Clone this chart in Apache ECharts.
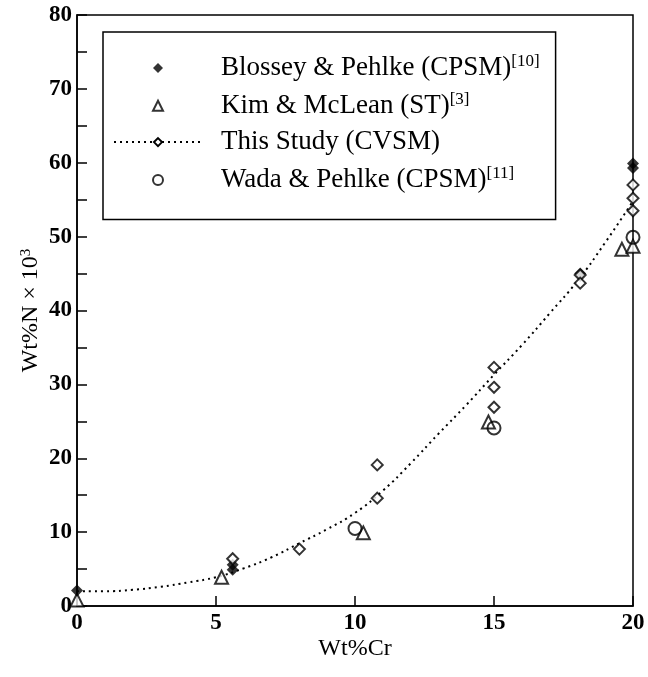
<!DOCTYPE html>
<html>
<head>
<meta charset="utf-8">
<script src="https://cdn.jsdelivr.net/npm/echarts@6/dist/echarts.min.js"></script>
<style>
  html, body { margin: 0; padding: 0; background: #fff; }
  #chart { width: 648px; height: 677px; }
</style>
</head>
<body>
<div id="chart"></div>
<script>
// Nitrogen solubility vs. chromium content
const blosseyX = [0, 5.6, 5.6, 18.1, 20, 20];
const blosseyY = [2.1, 5.6, 4.9, 45.0, 59.9, 59.3];

const kimX = [0, 5.2, 10.3, 14.8, 19.6, 20];
const kimY = [0.8, 3.9, 9.9, 24.9, 48.3, 48.7];

const studyX = [5.6, 8.0, 10.8, 10.8, 15, 15, 15, 18.1, 18.1, 20, 20, 20];
const studyY = [6.4, 7.7, 19.1, 14.6, 32.3, 29.6, 26.9, 44.8, 43.7, 57.0, 55.2, 53.5];

const wadaX = [10.0, 15.0, 20];
const wadaY = [10.5, 24.1, 49.9];

// dotted fitted curve for this study
const fitX = [0, 1, 2, 3, 4, 5, 6, 7, 8, 9, 10, 11, 12, 13, 14, 15, 16, 17, 18, 19, 20];
const fitY = [2.0, 2.0, 2.2, 2.6, 3.2, 3.9, 5.1, 6.6, 8.5, 10.4, 12.6, 15.6, 19.3, 23.3, 27.2, 31.3, 35.3, 39.6, 44.0, 49.2, 54.8];

const xTicks = [0, 5, 10, 15, 20];
const yTicks = [0, 10, 20, 30, 40, 50, 60, 70, 80];

const names = {
  blossey: 'Blossey & Pehlke (CPSM)',
  kim: 'Kim & McLean (ST)',
  study: 'This Study (CVSM)',
  wada: 'Wada & Pehlke (CPSM)'
};
const refs = {
  'Blossey & Pehlke (CPSM)': '[10]',
  'Kim & McLean (ST)': '[3]',
  'Wada & Pehlke (CPSM)': '[11]'
};

// legend glyphs as paths so they keep their proportions inside the wide icon box
const ICON_DIAMOND = 'path://M0,-1L1,0L0,1L-1,0Z';
const ICON_TRIANGLE = 'path://M0,-1L1,1L-1,1Z';
const ICON_CIRCLE = 'path://M0,-1A1,1,0,1,1,0,1A1,1,0,1,1,0,-1Z';

const FONT = '"Liberation Serif", "DejaVu Serif", serif';
const pair = (xs, ys) => xs.map((x, i) => [x, ys[i]]);

const chart = echarts.init(document.getElementById('chart'), null, { renderer: 'canvas' });

chart.setOption({
  animation: false,
  backgroundColor: '#fff',
  grid: {
    left: 77, right: 15, top: 15, bottom: 71,
    show: true, borderColor: '#000', borderWidth: 1.5
  },
  legend: {
    orient: 'vertical',
    left: 103, top: 32,
    padding: [21, 16, 26, 10],
    itemGap: 9.3,
    itemWidth: 88,
    itemHeight: 10,
    symbolKeepAspect: true,
    borderColor: '#000',
    borderWidth: 1.5,
    data: [
      { name: names.blossey, icon: ICON_DIAMOND },
      { name: names.kim, icon: ICON_TRIANGLE },
      { name: names.study },
      { name: names.wada, icon: ICON_CIRCLE }
    ],
    formatter: function (n) {
      return refs[n] ? '{t|' + n + '}{s|' + refs[n] + '}' : '{t|' + n + '}';
    },
    textStyle: {
      color: '#000',
      fontFamily: FONT,
      fontSize: 27,
      padding: [0, 0, 0, 14],
      rich: {
        t: { fontFamily: FONT, fontSize: 27, color: '#000', lineHeight: 30 },
        s: { fontFamily: FONT, fontSize: 17, color: '#000', lineHeight: 16, verticalAlign: 'top' }
      }
    }
  },
  xAxis: {
    type: 'value',
    min: xTicks[0], max: xTicks[xTicks.length - 1], interval: 5,
    name: 'Wt%Cr',
    nameLocation: 'middle',
    nameGap: 31,
    nameMoveOverlap: false,
    nameTextStyle: { color: '#000', fontFamily: FONT, fontSize: 24, verticalAlign: 'top' },
    axisLine: { lineStyle: { color: '#000', width: 1.5 } },
    axisTick: { inside: true, length: 10, lineStyle: { color: '#000', width: 1.5 } },
    axisLabel: { color: '#000', fontFamily: FONT, fontSize: 23, fontWeight: 'bold', margin: 6 },
    splitLine: { show: false }
  },
  yAxis: {
    type: 'value',
    min: yTicks[0], max: yTicks[yTicks.length - 1], interval: 10,
    name: 'Wt%N × 10{sup|3}',
    nameLocation: 'middle',
    nameGap: 34,
    nameMoveOverlap: false,
    nameRotate: 90,
    nameTextStyle: {
      color: '#000', fontFamily: FONT, fontSize: 24,
      rich: {
        sup: { fontFamily: FONT, fontSize: 15, color: '#000', verticalAlign: 'top', lineHeight: 12 }
      }
    },
    axisLine: { lineStyle: { color: '#000', width: 1.5 } },
    axisTick: { inside: true, length: 10, lineStyle: { color: '#000', width: 1.5 } },
    minorTick: { show: true, splitNumber: 2, length: 10, lineStyle: { color: '#000', width: 1.5 } },
    axisLabel: { color: '#000', fontFamily: FONT, fontSize: 23, fontWeight: 'bold', margin: 5 },
    splitLine: { show: false }
  },
  series: [
    {
      name: names.blossey,
      type: 'scatter',
      symbol: 'diamond',
      symbolSize: 12,
      itemStyle: { color: '#000' },
      data: pair(blosseyX, blosseyY),
      z: 3
    },
    {
      name: names.kim,
      type: 'scatter',
      symbol: 'triangle',
      symbolSize: 13,
      itemStyle: { color: '#fff', borderColor: '#000', borderWidth: 2 },
      data: pair(kimX, kimY),
      z: 2
    },
    {
      name: names.study,
      type: 'line',
      smooth: true,
      symbol: 'diamond',
      showSymbol: false,
      lineStyle: { color: '#000', width: 2, type: [2, 4] },
      itemStyle: { color: '#fff', borderColor: '#000', borderWidth: 2 },
      data: pair(fitX, fitY),
      z: 1
    },
    {
      name: names.study,
      type: 'scatter',
      symbol: 'diamond',
      symbolSize: 11,
      itemStyle: { color: '#fff', borderColor: '#000', borderWidth: 2 },
      data: pair(studyX, studyY),
      z: 4
    },
    {
      name: names.wada,
      type: 'scatter',
      symbol: 'circle',
      symbolSize: 13,
      itemStyle: { color: 'rgba(255,255,255,0)', borderColor: '#000', borderWidth: 2 },
      data: pair(wadaX, wadaY),
      z: 5
    }
  ]
});
</script>
</body>
</html>
